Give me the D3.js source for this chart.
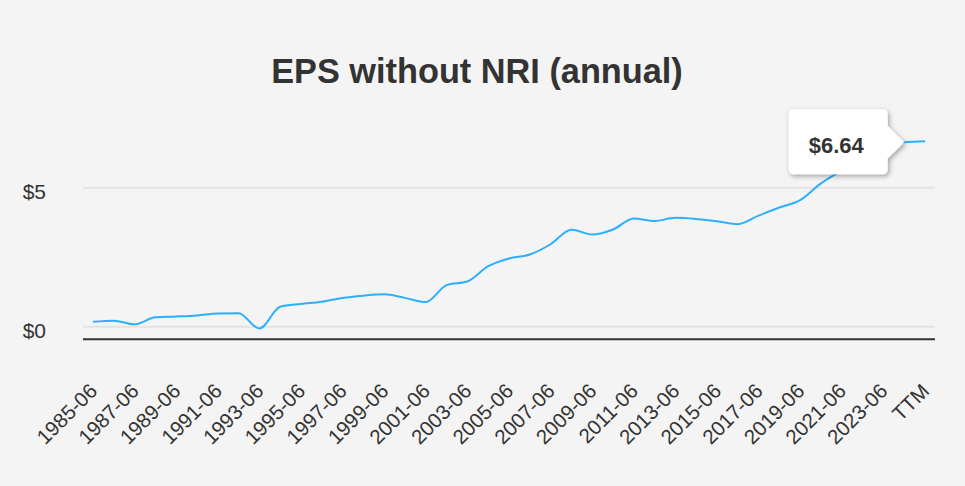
<!DOCTYPE html>
<html>
<head>
<meta charset="utf-8">
<script src="https://cdn.jsdelivr.net/npm/d3@7"></script>
<style>
  body { margin:0; background:#f4f4f4; }
  svg { display:block; font-family:"Liberation Sans", Arial, sans-serif; }
</style>
</head>
<body>
<svg></svg>
<script>
//data
var periods = ["1985-06","1986-06","1987-06","1988-06","1989-06","1990-06","1991-06","1992-06",
  "1993-06","1994-06","1995-06","1996-06","1997-06","1998-06","1999-06","2000-06","2001-06",
  "2002-06","2003-06","2004-06","2005-06","2006-06","2007-06","2008-06","2009-06","2010-06",
  "2011-06","2012-06","2013-06","2014-06","2015-06","2016-06","2017-06","2018-06","2019-06",
  "2020-06","2021-06","2022-06","2023-06","2024-06","TTM"]
var eps = [0.18,0.22,0.09,0.34,0.37,0.41,0.48,0.49,-0.06,0.72,0.82,0.90,1.04,1.12,1.17,1.04,0.89,
  1.50,1.63,2.18,2.46,2.60,2.97,3.49,3.32,3.50,3.90,3.81,3.92,3.88,3.80,3.69,4.00,4.29,4.56,
  5.16,5.60,5.85,5.98,6.64,6.68]
var yTicks = [0,5]
var xLabels = periods.filter(function(d,i){ return i%2==0 })
var hoverIndex = 39

var screen = {width:965, height:486}
var plot = {left:83, right:935, top:110, bottom:339.3}

var svg = d3.select("svg")
  .attr("width", screen.width)
  .attr("height", screen.height)

svg.append("rect")
  .attr("width", screen.width)
  .attr("height", screen.height)
  .attr("fill", "#f4f4f4")

var defs = svg.append("defs")
var shadow = defs.append("filter").attr("id","shadow")
  .attr("x","-20%").attr("y","-20%").attr("width","150%").attr("height","160%")
shadow.append("feDropShadow")
  .attr("dx",1.5).attr("dy",2).attr("stdDeviation",2.5)
  .attr("flood-color","#000").attr("flood-opacity",0.35)

var xScale = d3.scalePoint()
  .domain(periods)
  .range([plot.left, plot.right])
  .padding(0.48)

var yScale = d3.scaleLinear()
  .domain([-0.45, 7.8])
  .range([plot.bottom, plot.top])

//title
svg.append("text")
  .attr("x", 477)
  .attr("y", 83)
  .attr("text-anchor","middle")
  .attr("font-size", 34.3)
  .attr("font-weight","bold")
  .attr("fill","#333")
  .text("EPS without NRI (annual)")

//grid
svg.append("g")
  .selectAll("line")
  .data(yTicks)
  .join("line")
  .attr("x1", plot.left)
  .attr("x2", plot.right)
  .attr("y1", function(d){ return yScale(d) })
  .attr("y2", function(d){ return yScale(d) })
  .attr("stroke","#e3e3e3")
  .attr("stroke-width",2)

//y labels
var yAxis = d3.axisLeft(yScale)
  .tickValues(yTicks)
  .tickFormat(function(d){ return "$" + d })
  .tickSize(0)
  .tickPadding(0)
var yg = svg.append("g")
  .attr("transform","translate(46,0)")
  .call(yAxis)
yg.select(".domain").remove()
yg.selectAll("text")
  .attr("font-size",21)
  .attr("font-family","Liberation Sans, Arial, sans-serif")
  .attr("fill","#333")
  .attr("dy","0.5em")

//x axis
var xAxis = d3.axisBottom(xScale)
  .tickValues(xLabels)
  .tickSize(0)
  .tickPadding(0)
var xg = svg.append("g")
  .attr("transform","translate(0,"+plot.bottom+")")
  .call(xAxis)
xg.select(".domain")
  .attr("d","M"+plot.left+",0H"+plot.right)
  .attr("stroke","#333")
  .attr("stroke-width",2)
xg.selectAll("text")
  .attr("font-size",20.5)
  .attr("font-family","Liberation Sans, Arial, sans-serif")
  .attr("fill","#333")
  .attr("text-anchor","end")
  .attr("dy",0)
  .attr("y",0)
  .attr("transform","translate(5,53) rotate(-45)")

//line
var line = d3.line()
  .x(function(d,i){ return xScale(periods[i]) })
  .y(function(d){ return yScale(d) })
  .curve(d3.curveMonotoneX)

svg.append("path")
  .datum(eps)
  .attr("d", line)
  .attr("fill","none")
  .attr("stroke","#2caffe")
  .attr("stroke-width",2)

//tooltip
var px = xScale(periods[hoverIndex])
var py = yScale(eps[hoverIndex])
var bw = 99, bh = 65, r = 5
var bx = px - 16.5 - bw, by = py - 33
var tip = svg.append("g")
tip.append("path")
  .attr("d", "M"+(bx+r)+","+by+
    "H"+(bx+bw-r)+"Q"+(bx+bw)+","+by+" "+(bx+bw)+","+(by+r)+
    "V"+(py-16.5)+"L"+px+","+py+"L"+(bx+bw)+","+(py+16.5)+
    "V"+(by+bh-r)+"Q"+(bx+bw)+","+(by+bh)+" "+(bx+bw-r)+","+(by+bh)+
    "H"+(bx+r)+"Q"+bx+","+(by+bh)+" "+bx+","+(by+bh-r)+
    "V"+(by+r)+"Q"+bx+","+by+" "+(bx+r)+","+by+"Z")
  .attr("fill","#fff")
  .attr("filter","url(#shadow)")
tip.append("text")
  .attr("x", bx + 20)
  .attr("y", py + 10.5)
  .attr("font-size",22)
  .attr("font-weight","bold")
  .attr("fill","#333")
  .text("$" + eps[hoverIndex].toFixed(2))
</script>
</body>
</html>
